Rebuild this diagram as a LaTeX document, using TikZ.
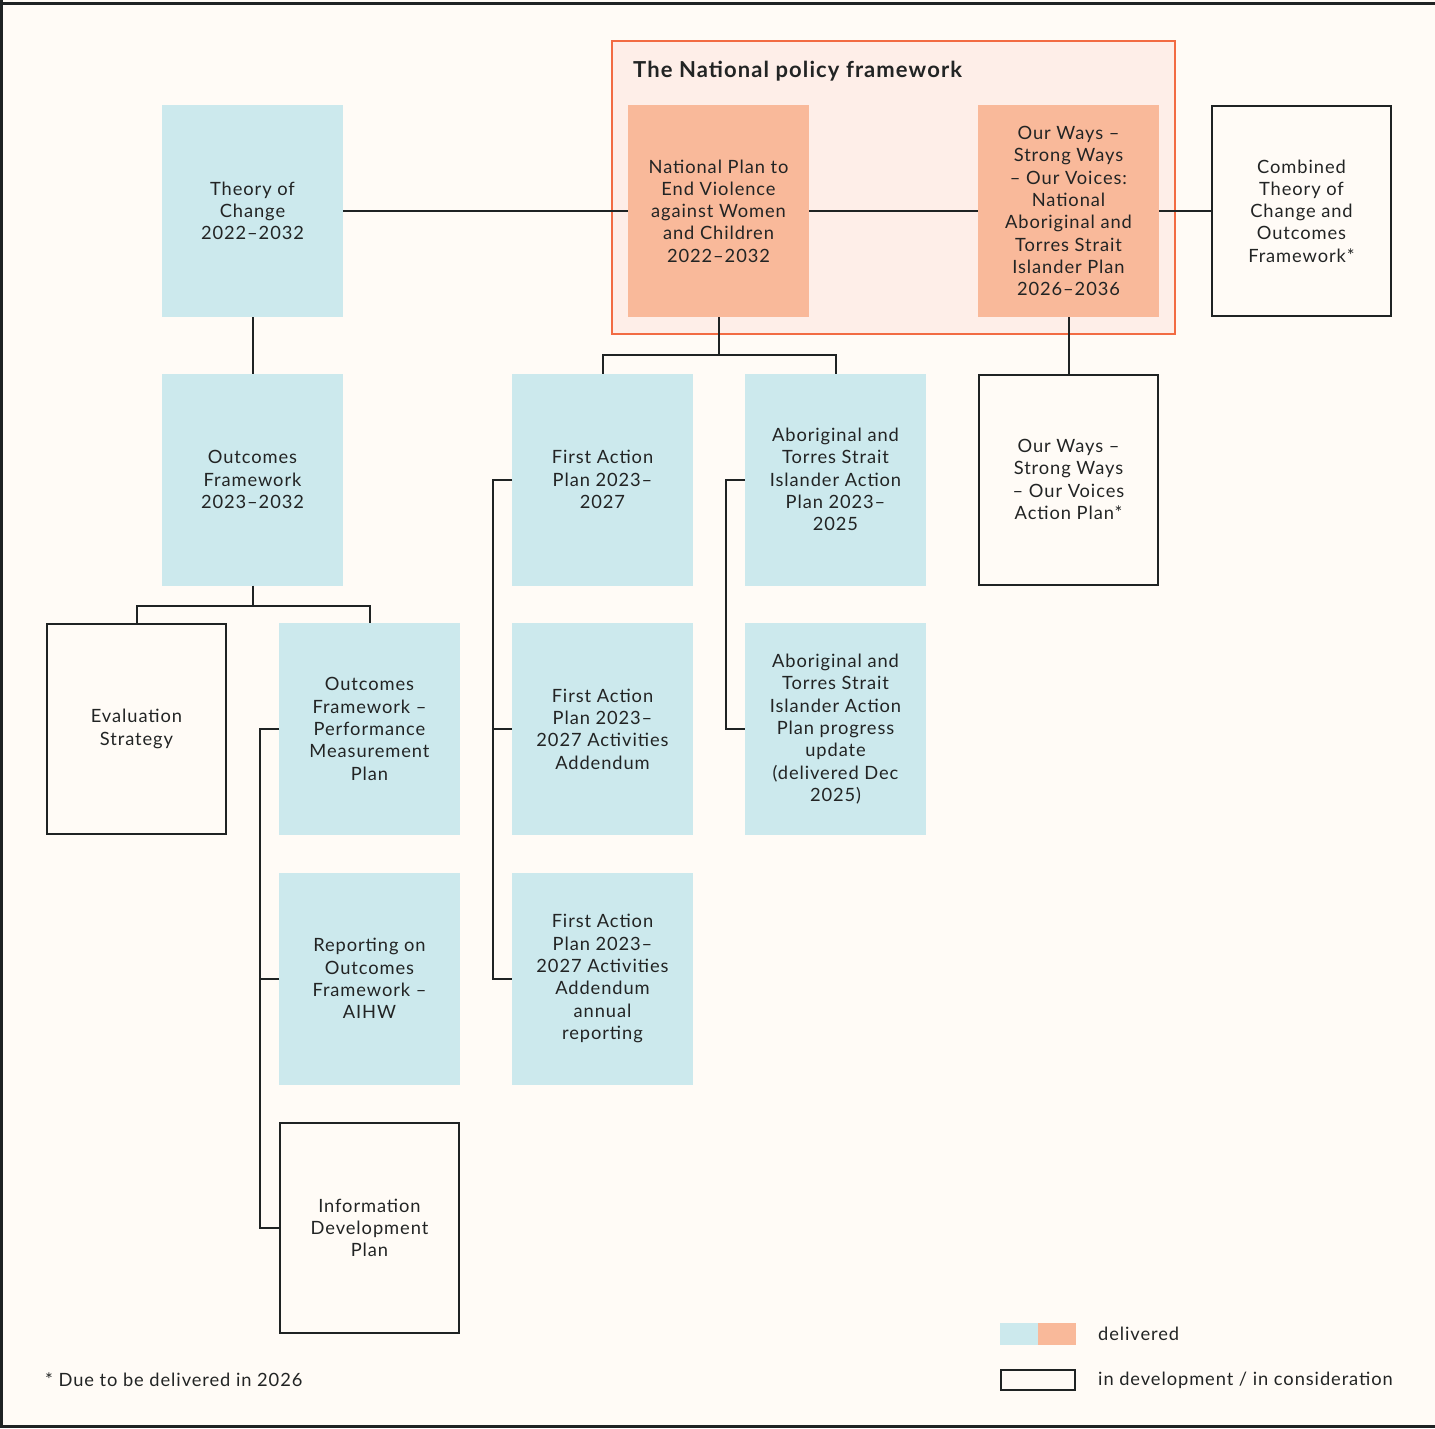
\documentclass[tikz,border=0pt]{standalone}
\usepackage{fontspec}
\setmainfont{Lato}[LetterSpace=5]
\definecolor{bg}{HTML}{FFFBF6}
\definecolor{lblue}{HTML}{CCE9ED}
\definecolor{peach}{HTML}{F9B99A}
\definecolor{fwfill}{HTML}{FEEEE8}
\definecolor{fwline}{HTML}{F26B43}
\definecolor{lin}{HTML}{1F2323}
\definecolor{txt}{HTML}{222424}
\tikzset{
  box/.style={minimum width=181pt, minimum height=212pt, inner sep=0pt, outer sep=0pt, align=center, text=txt, font=\fontsize{18.3}{22.3}\selectfont},
  bluebox/.style={box, fill=lblue},
  peachbox/.style={box, fill=peach},
  openbox/.style={box, draw=lin, line width=2pt, fill=bg, minimum width=179pt, minimum height=210pt},
  conn/.style={draw=lin, line width=2pt},
  plain/.style={text=txt, inner sep=0pt, font=\fontsize{18.3}{22.3}\selectfont}
}
\begin{document}
\begin{tikzpicture}[x=1pt,y=-1pt]
\useasboundingbox (0,0) rectangle (1435,1428);
\fill[bg] (0,0) rectangle (1435,1428);
\draw[lin, line width=3pt] (0,3) -- (1435,3);
\draw[lin, line width=3pt] (1.5,0) -- (1.5,1428);
\draw[lin, line width=3pt] (0,1426.5) -- (1435,1426.5);

% framework box
\node[draw=fwline, fill=fwfill, line width=2pt, minimum width=563pt, minimum height=293pt, inner sep=0pt] (fw) at (893.5,187.5) {};
\node[anchor=west, text=txt, inner sep=0pt, font=\bfseries\fontsize{22}{26}\selectfont] (title) at (633,71) {The National policy framework};

% top row
\node[bluebox] (toc) at (252.5,211) {Theory of\\Change\\2022–2032};
\node[peachbox] (np) at (718.5,211) {National Plan to\\End Violence\\against Women\\and Children\\2022–2032};
\node[peachbox] (ow) at (1068.5,211) {Our Ways –\\Strong Ways\\– Our Voices:\\National\\Aboriginal and\\Torres Strait\\Islander Plan\\2026–2036};
\node[openbox] (comb) at (1301.5,211) {Combined\\Theory of\\Change and\\Outcomes\\Framework*};

% second row
\node[bluebox] (of) at (252.5,479.5) {Outcomes\\Framework\\2023–2032};
\node[bluebox] (fap) at (602.5,479.5) {First Action\\Plan 2023–\\2027};
\node[bluebox] (atsi) at (835.5,479.5) {Aboriginal and\\Torres Strait\\Islander Action\\Plan 2023–\\2025};
\node[openbox] (owap) at (1068.5,479.5) {Our Ways –\\Strong Ways\\– Our Voices\\Action Plan*};

% third row
\node[openbox] (eval) at (136.5,729) {Evaluation\\Strategy};
\node[bluebox] (ofpm) at (369.5,729) {Outcomes\\Framework –\\Performance\\Measurement\\Plan};
\node[bluebox] (fapa) at (602.5,729) {First Action\\Plan 2023–\\2027 Activities\\Addendum};
\node[bluebox] (atsip) at (835.5,729) {Aboriginal and\\Torres Strait\\Islander Action\\Plan progress\\update\\(delivered Dec\\2025)};

% fourth row
\node[bluebox] (rep) at (369.5,978.5) {Reporting on\\Outcomes\\Framework –\\AIHW};
\node[bluebox] (fapar) at (602.5,978.5) {First Action\\Plan 2023–\\2027 Activities\\Addendum\\annual\\reporting};

% fifth row
\node[openbox] (idp) at (369.5,1228) {Information\\Development\\Plan};

% connectors
\draw[conn] (toc.east) -- (np.west);
\draw[conn] (np.east) -- (ow.west);
\draw[conn] (ow.east) -- (comb.west);
\draw[conn] (toc.south) -- (of.north);
\draw[conn] (ow.south) -- (owap.north);
\draw[conn] (np.south) -- ++(0,38) coordinate (npj);
\draw[conn] (fap.north) |- (npj) -| (atsi.north);
\draw[conn] (of.south) -- ++(0,20) coordinate (ofj);
\draw[conn] (eval.north) |- (ofj) -| (ofpm.north);
\draw[conn] (ofpm.west) -- ++(-19,0) |- (idp.west);
\draw[conn] (rep.west) -- ++(-19,0);
\draw[conn] (fap.west) -- ++(-19,0) |- (fapar.west);
\draw[conn] (fapa.west) -- ++(-19,0);
\draw[conn] (atsi.west) -- ++(-19,0) |- (atsip.west);

% legend
\node[fill=lblue, minimum width=38pt, minimum height=22pt, inner sep=0pt] (lgb) at (1019,1334) {};
\node[fill=peach, minimum width=38pt, minimum height=22pt, inner sep=0pt] (lgp) at (1057,1334) {};
\node[draw=lin, line width=2pt, fill=bg, minimum width=74pt, minimum height=20pt, inner sep=0pt] (lgo) at (1038,1379.5) {};
\node[plain, anchor=west] (lgt1) at (1098,1334) {delivered};
\node[plain, anchor=west] (lgt2) at (1098,1380) {in development / in consideration};
\node[plain, anchor=west] (foot) at (45,1380) {* Due to be delivered in 2026};
\end{tikzpicture}
\end{document}
